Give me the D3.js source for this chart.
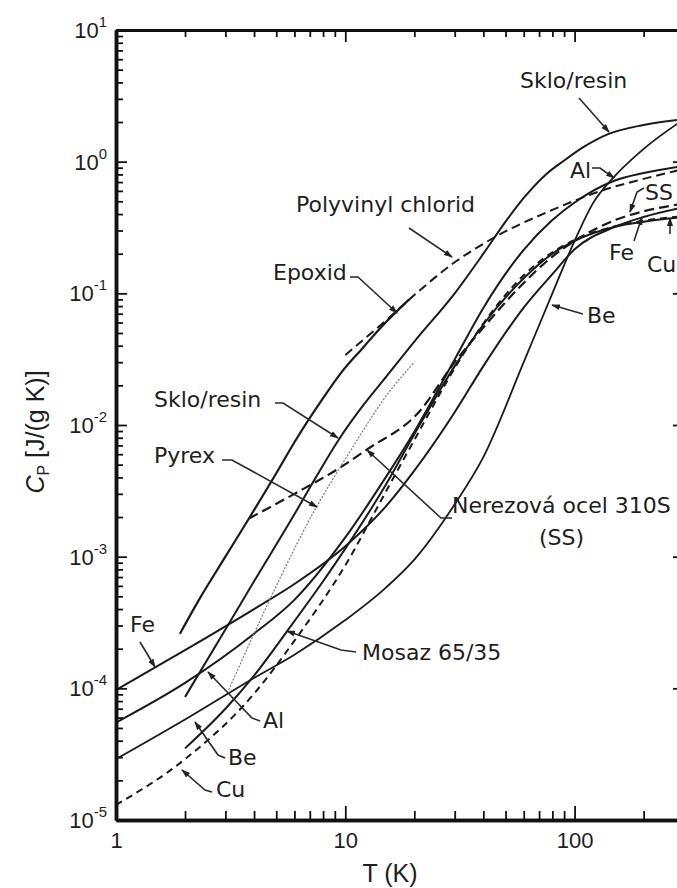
<!DOCTYPE html>
<html>
<head>
<meta charset="utf-8">
<script src="https://cdnjs.cloudflare.com/ajax/libs/d3/7.8.5/d3.min.js"></script>
<style>
body { margin: 0; background: #fff; }
svg { display: block; }
.lbl { font-family: "DejaVu Sans", Verdana, sans-serif; font-size: 22px; fill: #1e1e1e; }
.num { font-family: "Liberation Sans", Arial, sans-serif; font-size: 22px; fill: #1e1e1e; }
</style>
</head>
<body>
<svg id="chart" width="677" height="888"></svg>
<script>
"use strict";

// plot box (right edge sits just outside the picture, as in the scan)
const plotL = 116, plotR = 684, plotT = 30, plotB = 820;

// axis ticks
const xMajor = [1, 10, 100];
const xMinor = [2, 3, 4, 5, 6, 7, 8, 9, 20, 30, 40, 50, 60, 70, 80, 90, 200, 300];
const yExponents = [-5, -4, -3, -2, -1, 0, 1];

// specific heat curves, T in K, Cp in J/(g K)
const tFe = [1, 2, 4, 6, 10, 15, 20, 30, 40, 60, 80, 100, 150, 200, 300];
const cpFe = [9.7e-5, 1.95e-4, 4.0e-4, 6.2e-4, 1.2e-3, 2.4e-3, 4.5e-3, 0.0125, 0.028, 0.078, 0.14, 0.216, 0.32, 0.38, 0.45];

const tAl = [1, 2, 4, 6, 10, 15, 20, 30, 40, 60, 80, 100, 150, 200, 300];
const cpAl = [5.5e-5, 1.1e-4, 2.6e-4, 4.7e-4, 1.4e-3, 4.0e-3, 8.9e-3, 0.0315, 0.0775, 0.214, 0.36, 0.49, 0.72, 0.82, 0.93];

const tCu = [1, 2, 4, 6, 10, 15, 20, 30, 40, 60, 80, 100, 150, 200, 300];
const cpCu = [1.3e-5, 2.9e-5, 9.1e-5, 2.3e-4, 8.6e-4, 3.1e-3, 7.7e-3, 0.027, 0.059, 0.137, 0.205, 0.254, 0.323, 0.356, 0.386];

const tBe = [1, 2, 4, 6, 10, 15, 20, 30, 40, 60, 80, 100, 120, 150, 200, 300];
const cpBe = [2.9e-5, 5.8e-5, 1.2e-4, 1.8e-4, 3.3e-4, 5.8e-4, 9.5e-4, 2.5e-3, 5.7e-3, 0.03, 0.1, 0.25, 0.48, 0.78, 1.25, 2.1];

const tBrass = [2, 3, 4, 5.56, 8, 10, 15, 20, 30, 40, 60, 80, 100, 150, 200, 300];
const cpBrass = [3.5e-5, 7e-5, 1.25e-4, 2.7e-4, 6.5e-4, 1.15e-3, 3.5e-3, 8.5e-3, 0.028, 0.058, 0.13, 0.2, 0.25, 0.32, 0.35, 0.38];

const tSS = [3.8, 6, 9.4, 12.4, 21, 30, 40, 60, 80, 100, 150, 200, 300];
const cpSS = [1.95e-3, 3.0e-3, 4.7e-3, 6.5e-3, 0.0126, 0.03, 0.055, 0.12, 0.19, 0.25, 0.36, 0.42, 0.48];

const tGlassResin = [2, 3, 4, 6, 7.5, 9.3, 12, 15, 20, 30, 40, 50, 60, 75, 90, 110, 140, 200, 300];
const cpGlassResin = [8.6e-5, 2.8e-4, 6.5e-4, 2.1e-3, 4.1e-3, 7.6e-3, 0.0142, 0.023, 0.043, 0.1, 0.2, 0.35, 0.53, 0.8, 1.02, 1.3, 1.62, 1.9, 2.1];

const tEpoxy = [1.9, 2.3, 3, 3.8, 5, 6, 8, 9.6, 12, 14, 19];
const cpEpoxy = [2.6e-4, 4.7e-4, 1.0e-3, 1.95e-3, 4.3e-3, 7.4e-3, 0.016, 0.025, 0.039, 0.053, 0.09];

const tPyrex = [3.1, 4, 5, 7.5, 10, 15.6, 20];
const cpPyrex = [9.7e-5, 2.6e-4, 6e-4, 2.4e-3, 5.5e-3, 0.018, 0.03];

const tPVC = [10, 15, 20, 29, 44, 80, 134, 200, 300];
const cpPVC = [0.034, 0.062, 0.097, 0.165, 0.262, 0.43, 0.61, 0.74, 0.88];

// labels: text, anchor x, baseline y, leader points (last point gets the arrow)
const labelText = ["Sklo/resin", "Al", "SS", "Fe", "Cu", "Polyvinyl chlorid", "Epoxid", "Be",
    "Sklo/resin", "Pyrex", "Nerezová ocel 310S", "(SS)", "Mosaz 65/35", "Fe", "Al", "Be", "Cu"];
const labelPos = [[520, 88], [570, 178], [645, 200], [609, 260], [647, 272], [296, 212], [273, 280], [587, 323],
    [154, 407], [154, 463], [452, 513], [539, 545], [362, 660], [130, 632], [263, 728], [228, 765], [216, 797]];
const leaders = [
    [[579, 98], [609, 132]],
    [[592, 168], [600, 168], [614, 178]],
    [[644, 188], [637, 192], [630, 212]],
    [[634, 241], [642, 217]],
    [[670, 234], [670, 218]],
    [[409, 228], [452, 257]],
    [[350, 277], [358, 277], [397, 313]],
    [[583, 314], [576, 312], [552, 305]],
    [[275, 403], [283, 403], [338, 438]],
    [[222, 460], [232, 460], [317, 507]],
    [[452, 518], [441, 518], [367, 450]],
    [[356, 652], [341, 650], [287, 631]],
    [[140, 642], [155, 667]],
    [[260, 721], [252, 718], [208, 672]],
    [[225, 758], [218, 755], [195, 722]],
    [[212, 792], [205, 790], [182, 770]]
];

const svg = d3.select("#chart");

const x = d3.scaleLog().domain([1, 300]).range([plotL, plotR]);
const y = d3.scaleLog().domain([1e-5, 10]).range([plotB, plotT]);

svg.append("defs").append("clipPath").attr("id", "plotClip")
    .append("rect").attr("x", plotL).attr("y", plotT)
    .attr("width", plotR - plotL).attr("height", plotB - plotT);

svg.select("defs").append("marker")
    .attr("id", "arrow")
    .attr("markerUnits", "userSpaceOnUse")
    .attr("markerWidth", 9).attr("markerHeight", 7)
    .attr("refX", 8).attr("refY", 3.5)
    .attr("orient", "auto")
    .append("path").attr("d", "M0,0.5 L9,3.5 L0,6.5 z").attr("fill", "#222");

// curves
const line = d3.line()
    .x(d => x(d[0]))
    .y(d => y(d[1]))
    .curve(d3.curveMonotoneX);

function pairs(ts, cs) { return ts.map((t, i) => [t, cs[i]]); }

const curves = [
    { pts: pairs(tFe, cpFe), dash: null, w: 2 },
    { pts: pairs(tAl, cpAl), dash: null, w: 2 },
    { pts: pairs(tCu, cpCu), dash: "7,5", w: 2 },
    { pts: pairs(tBe, cpBe), dash: null, w: 1.8 },
    { pts: pairs(tBrass, cpBrass), dash: null, w: 2 },
    { pts: pairs(tSS, cpSS), dash: "10,5", w: 2.2 },
    { pts: pairs(tGlassResin, cpGlassResin), dash: null, w: 2 },
    { pts: pairs(tEpoxy, cpEpoxy), dash: null, w: 2.2 },
    { pts: pairs(tPyrex, cpPyrex), dash: "2,1.5", w: 1.2, color: "#777" },
    { pts: pairs(tPVC, cpPVC), dash: "9,5", w: 2 }
];

svg.append("g").attr("clip-path", "url(#plotClip)")
    .selectAll("path")
    .data(curves)
    .join("path")
    .attr("d", c => line(c.pts))
    .attr("fill", "none")
    .attr("stroke", c => c.color || "#1a1a1a")
    .attr("stroke-width", c => c.w)
    .attr("stroke-dasharray", c => c.dash)
    .attr("stroke-linejoin", "round");

// leaders and labels
svg.append("g")
    .selectAll("path")
    .data(leaders)
    .join("path")
    .attr("d", d => d3.line()(d))
    .attr("fill", "none")
    .attr("stroke", "#2a2a2a")
    .attr("stroke-width", 1.6)
    .attr("marker-end", "url(#arrow)");

svg.append("g")
    .selectAll("text")
    .data(labelText)
    .join("text")
    .attr("class", "lbl")
    .attr("x", (d, i) => labelPos[i][0])
    .attr("y", (d, i) => labelPos[i][1])
    .text(d => d);

// axes
const yMinor = [];
yExponents.slice(0, -1).forEach(e => {
    for (let k = 2; k <= 9; k++) yMinor.push(k * Math.pow(10, e));
});
const yMajor = yExponents.map(e => Math.pow(10, e));

function styleAxis(g, width) {
    g.select(".domain").attr("stroke", "#111").attr("stroke-width", width);
    g.selectAll(".tick line").attr("stroke", "#111").attr("stroke-width", 1.8);
}

// bottom
svg.append("g").attr("transform", `translate(0,${plotB})`)
    .call(d3.axisBottom(x).tickValues(xMinor).tickSize(-9).tickSizeOuter(0).tickFormat(""))
    .call(g => styleAxis(g, 3.5));
svg.append("g").attr("transform", `translate(0,${plotB})`)
    .call(d3.axisBottom(x).tickValues(xMajor).tickSize(-14).tickSizeOuter(0).tickPadding(12).tickFormat(d3.format("d")))
    .call(g => styleAxis(g, 3.5))
    .call(g => g.selectAll("text").attr("class", "num").attr("font-family", null).attr("font-size", null));

// top
svg.append("g").attr("transform", `translate(0,${plotT})`)
    .call(d3.axisTop(x).tickValues(xMinor).tickSize(-7).tickSizeOuter(0).tickFormat(""))
    .call(g => styleAxis(g, 3));
svg.append("g").attr("transform", `translate(0,${plotT})`)
    .call(d3.axisTop(x).tickValues(xMajor).tickSize(-12).tickSizeOuter(0).tickFormat(""))
    .call(g => styleAxis(g, 3));

// left
svg.append("g").attr("transform", `translate(${plotL},0)`)
    .call(d3.axisLeft(y).tickValues(yMinor).tickSize(-7).tickSizeOuter(0).tickFormat(""))
    .call(g => styleAxis(g, 3.5));
svg.append("g").attr("transform", `translate(${plotL},0)`)
    .call(d3.axisLeft(y).tickValues(yMajor).tickSize(-11).tickSizeOuter(0).tickFormat(""))
    .call(g => styleAxis(g, 3.5));

// right
svg.append("g").attr("transform", `translate(${plotR},0)`)
    .call(d3.axisRight(y).tickValues(yMinor).tickSize(-6).tickSizeOuter(0).tickFormat(""))
    .call(g => styleAxis(g, 3));
svg.append("g").attr("transform", `translate(${plotR},0)`)
    .call(d3.axisRight(y).tickValues(yMajor).tickSize(-11).tickSizeOuter(0).tickFormat(""))
    .call(g => styleAxis(g, 3));

// y tick labels with superscript exponents
const yLab = svg.append("g").selectAll("text")
    .data(yExponents)
    .join("text")
    .attr("class", "num")
    .attr("text-anchor", "end")
    .attr("x", 107)
    .attr("y", e => y(Math.pow(10, e)) + 8);
yLab.append("tspan").text("10");
yLab.append("tspan").attr("dy", -11).attr("font-size", 15).text(e => e < 0 ? "-" + (-e) : String(e));

// axis titles
svg.append("text")
    .attr("class", "num")
    .attr("x", 390).attr("y", 882)
    .attr("text-anchor", "middle")
    .style("font-size", "25px")
    .text("T (K)");

const yt = svg.append("text")
    .attr("class", "num")
    .attr("transform", "translate(44,432) rotate(-90)")
    .attr("text-anchor", "middle")
    .style("font-size", "25px");
yt.append("tspan").attr("font-style", "italic").text("C");
yt.append("tspan").attr("dy", 5).style("font-size", "16px").text("P");
yt.append("tspan").attr("dy", -5).text(" [J/(g K)]");
</script>
</body>
</html>
